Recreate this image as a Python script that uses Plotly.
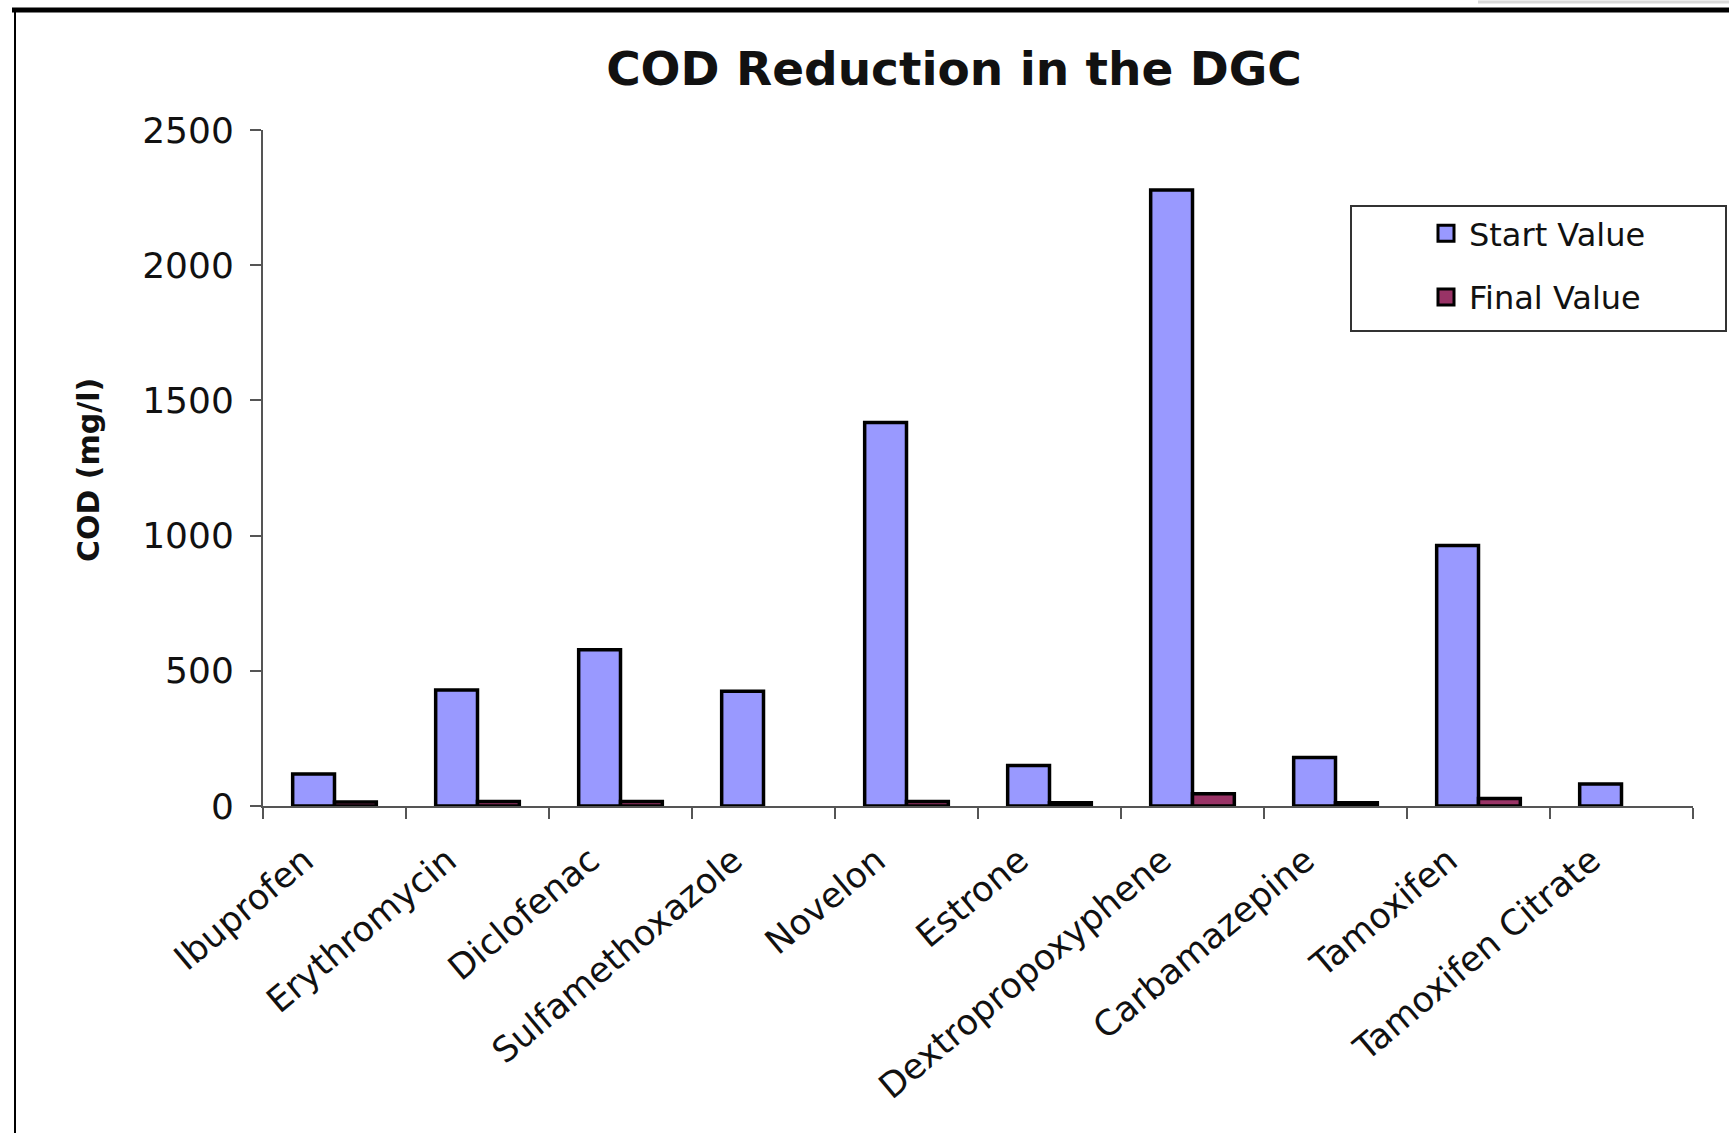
import plotly.graph_objects as go

# COD measurements per compound (mg/l)
compounds = ["Ibuprofen", "Erythromycin", "Diclofenac", "Sulfamethoxazole", "Novelon",
             "Estrone", "Dextropropoxyphene", "Carbamazepine", "Tamoxifen", "Tamoxifen Citrate"]
start_values = [118, 429, 578, 424, 1418, 150, 2278, 179, 963, 81]
final_values = [15, 17, 17, None, 17, 12, 45, 12, 28, None]
y_ticks = [0, 500, 1000, 1500, 2000, 2500]

W, H = 1729, 1133
L, R, T, B = 263, 1693, 130, 806


def px_x(px):
    return (px - L) / (R - L)


def px_y(py):
    return (B - py) / (B - T)


FONT = "DejaVu Sans"
START_COLOR = "#9999FF"
FINAL_COLOR = "#993366"

fig = go.Figure()
fig.add_trace(go.Bar(x=compounds, y=start_values, name="Start Value", showlegend=False,
                     marker=dict(color=START_COLOR, line=dict(color="black", width=3.5))))
fig.add_trace(go.Bar(x=compounds, y=final_values, name="Final Value", showlegend=False,
                     marker=dict(color=FINAL_COLOR, line=dict(color="black", width=3.5))))

# legend swatches
for name, col in [("Start Value", START_COLOR), ("Final Value", FINAL_COLOR)]:
    fig.add_trace(go.Scatter(x=[None], y=[None], mode="markers", name=name, legendgroup=name,
                             marker=dict(symbol="square", size=17, color=col,
                                         line=dict(color="black", width=3))))

shapes = [
    # legend box
    dict(type="rect", xref="paper", yref="paper", x0=px_x(1351), x1=px_x(1726),
         y0=px_y(331), y1=px_y(206), line=dict(color="#333", width=2), fillcolor="rgba(0,0,0,0)"),
    # outer frame: thick top rule and left rule
    dict(type="line", xref="paper", yref="paper", x0=px_x(12), x1=px_x(1729),
         y0=px_y(10), y1=px_y(10), line=dict(color="black", width=5)),
    dict(type="line", xref="paper", yref="paper", x0=px_x(15), x1=px_x(15),
         y0=px_y(10), y1=px_y(1133), line=dict(color="black", width=2)),
    dict(type="line", xref="paper", yref="paper", x0=px_x(1478), x1=px_x(1729),
         y0=px_y(2), y1=px_y(2), line=dict(color="#d8d8d8", width=3)),
]

fig.update_layout(
    width=W, height=H,
    margin=dict(l=L, r=W - R, t=T, b=H - B, autoexpand=False),
    paper_bgcolor="white", plot_bgcolor="white",
    barmode="group", bargap=0.415, bargroupgap=0,
    font=dict(family=FONT, color="#111"),
    title=dict(text="<b>COD Reduction in the DGC</b>", x=954 / W, xanchor="center",
               xref="container", yref="container", y=1 - 69 / H, yanchor="middle",
               font=dict(family=FONT, size=47, color="#111")),
    xaxis=dict(showline=True, linecolor="#555", linewidth=2, ticks="outside",
               tickson="boundaries", ticklen=11, tickwidth=2, tickcolor="#555",
               tickangle=-40, tickfont=dict(family=FONT, size=35, color="#111"),
               ticklabelstandoff=18, ticklabelshift=-30,
               showgrid=False, automargin=False),
    yaxis=dict(range=[0, 2500], tickvals=y_ticks, showline=True, linecolor="#555",
               linewidth=2, ticks="outside", ticklen=11, tickwidth=2, tickcolor="#555",
               tickfont=dict(family=FONT, size=36, color="#111"), showgrid=False,
               zeroline=False, automargin=False, ticklabelstandoff=9),
    legend=dict(x=px_x(1423), xanchor="left", y=px_y(206), yanchor="top",
                font=dict(family=FONT, size=32, color="#111"),
                bgcolor="rgba(0,0,0,0)", borderwidth=0, itemwidth=36,
                traceorder="grouped", tracegroupgap=19),
    shapes=shapes,
    annotations=[dict(text="<b>COD (mg/l)</b>", xref="paper", yref="paper",
                      x=px_x(88), y=px_y(470), textangle=-90, showarrow=False,
                      xanchor="center", yanchor="middle",
                      font=dict(family=FONT, size=30, color="#111"))],
)

fig.write_html("out.html")
